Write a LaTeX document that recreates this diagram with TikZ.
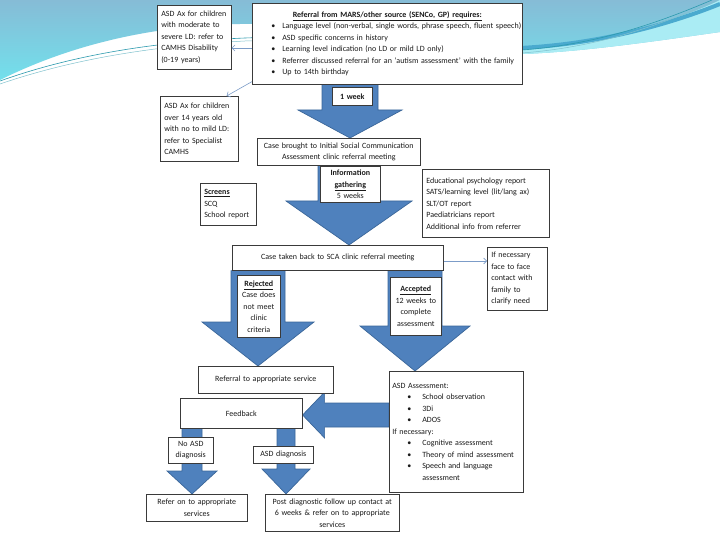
\documentclass[tikz,border=0pt]{standalone}
\usepackage{fontspec}
\setmainfont{Carlito}
\usetikzlibrary{calc,arrows.meta}
\pgfdeclarelayer{back}
\pgfdeclarelayer{mid}
\pgfsetlayers{back,mid,main}
\definecolor{abfill}{HTML}{4F81BD}
\definecolor{abedge}{HTML}{3A6699}
\definecolor{thin}{HTML}{7C9CC8}
\definecolor{bgtop}{HTML}{86BCD6}
\definecolor{bgbot}{HTML}{72E0EC}
\definecolor{band}{HTML}{4AAACF}
\definecolor{tealline}{HTML}{2C9AAE}
\definecolor{txt}{HTML}{1A1A1A}
\definecolor{edge}{HTML}{3A3A3A}
\setlength\parindent{0pt}
\newcommand\bitem[3]{\hspace*{#1}\makebox[#2][l]{\textbullet}#3}
\newcommand\blockdown[5]{%
  \path[blockarrow] let \p1=#1, \p2=#2 in
   (\x1-#3,\y1) -- (\x1+#3,\y1) -- (\x1+#3,\y2+#5) -- (\x1+#4,\y2+#5) -- (\x1,\y2)
   -- (\x1-#4,\y2+#5) -- (\x1-#3,\y2+#5) -- cycle;}
\newcommand\blockleft[5]{%
  \path[blockarrow] let \p1=#1, \p2=#2 in
   (\x1,\y1+#3) -- (\x1,\y1-#3) -- (\x2+#5,\y1-#3) -- (\x2+#5,\y1-#4) -- (\x2,\y1)
   -- (\x2+#5,\y1+#4) -- (\x2+#5,\y1+#3) -- cycle;}
\tikzset{
  box/.style={draw=edge, line width=0.6pt, fill=white, text=txt, anchor=north west,
    inner xsep=4pt, inner ysep=1pt},
  lbl/.style={box, inner xsep=1pt, align=center},
  blockarrow/.style={fill=abfill, draw=abedge, line width=0.7pt, line join=miter},
  thinarrow/.style={draw=thin, line width=0.6pt, -{Straight Barb[length=3pt,width=6pt]}},
}
\begin{document}
\begin{tikzpicture}[x=1pt, y=-1pt, font=\fontsize{8}{11.5}\selectfont]
\useasboundingbox (0,0) rectangle (720,540);
\begin{pgfonlayer}{back}
  \fill[white] (0,0) rectangle (720,540);
  \shade[top color=bgtop, bottom color=bgbot]
    (0,0) -- (720,0) -- (720,32) .. controls (650,42) and (580,52) .. (522,54)
    .. controls (450,56) and (350,22) .. (240,24)
    .. controls (130,26) and (50,55) .. (0,80) -- cycle;
  \fill[white!40!bgbot] (522,54) .. controls (580,52) and (650,42) .. (720,32) -- (720,0)
    .. controls (680,20) and (600,44) .. (522,48) -- cycle;
  \draw[band, line width=4pt] (520,48) .. controls (600,44) and (670,24) .. (720,4);
  \draw[tealline, line width=0.6pt] (0,81) .. controls (70,56) and (150,42) .. (245,38)
    .. controls (350,34) and (450,52) .. (522,50) .. controls (600,44) and (660,22) .. (712,0);
  \draw[tealline!60, line width=0.5pt] (0,84) .. controls (70,60) and (150,46) .. (245,41)
    .. controls (350,37) and (450,55) .. (522,53) .. controls (600,47) and (660,25) .. (718,0);
\end{pgfonlayer}

\coordinate (c1) at (350,0);
\coordinate (c2) at (349,0);
\coordinate (c3) at (258,0);
\coordinate (c4) at (415,0);
\coordinate (c6) at (192,0);
\coordinate (c7) at (286,0);
\coordinate (fy) at (0,415);
\coordinate (ya) at (0,48);
\coordinate (yh) at (0,261);

% main boxes
\node[box, text width=66pt, minimum height=64pt, align=left] (A) at (157,5)
  {ASD Ax for children\\with moderate to\\severe LD: refer to\\CAMHS Disability\\(0-19 years)};
\node[box, inner xsep=3pt, text width=264pt, minimum height=81pt] (B) at (252,3)
  {{\centering\textbf{\underline{Referral from MARS/other source (SENCo, GP) requires:}}\par}\raggedright
   \bitem{16pt}{11pt}{\mbox{Language level (non-verbal, single words, phrase speech, fluent speech)}}\par
   \bitem{16pt}{11pt}{ASD specific concerns in history}\par
   \bitem{16pt}{11pt}{Learning level indication (no LD or mild LD only)}\par
   \bitem{16pt}{11pt}{Referrer discussed referral for an `autism assessment' with the family}\par
   \bitem{16pt}{11pt}{Up to 14th birthday}};
\node[box, text width=70pt, minimum height=65pt, align=left] (C) at (160,96)
  {ASD Ax for children\\over 14 years old\\with no to mild LD:\\refer to Specialist\\CAMHS};
\node[box, text width=155pt, minimum height=27pt, align=center] (D) at (257,138)
  {Case brought to Initial Social Communication\\Assessment clinic referral meeting};
\node[box, text width=48pt, minimum height=42pt, align=left] (E) at (200,183)
  {\textbf{\underline{Screens}}\\SCQ\\School report};
\node[box, text width=119pt, minimum height=68pt, align=left] (F) at (422,169)
  {Educational psychology report\\SATS/learning level (lit/lang ax)\\SLT/OT report\\Paediatricians report\\Additional info from referrer};
\node[box, text width=203pt, minimum height=25pt, align=center] (G) at (232,245)
  {Case taken back to SCA clinic referral meeting};
\node[box, text width=52pt, minimum height=63pt, align=left] (H) at (487,247)
  {If necessary\\face to face\\contact with\\family to\\clarify need};
\node[box, text width=127pt, minimum height=27pt, align=center] (I) at (198,366)
  {Referral to appropriate service};
\node[box, inner xsep=3pt, text width=128pt, minimum height=121pt] (J) at (389,371)
  {\raggedright ASD Assessment:\par
   \bitem{15pt}{15pt}{School observation}\par
   \bitem{15pt}{15pt}{3Di}\par
   \bitem{15pt}{15pt}{ADOS}\par
   If necessary:\par
   \bitem{15pt}{15pt}{Cognitive assessment}\par
   \bitem{15pt}{15pt}{Theory of mind assessment}\par
   \bitem{15pt}{15pt}{Speech and language}\par
   \hspace*{30pt}assessment};
\node[box, text width=114pt, minimum height=30pt, align=center] (K) at (180,398) {Feedback};
\node[box, text width=93pt, minimum height=27pt, align=center] (L) at (146,494)
  {Refer on to appropriate\\services};
\node[box, inner xsep=2pt, text width=130pt, minimum height=37pt, align=center] (M) at (265,494)
  {Post diagnostic follow up contact at\\6 weeks \& refer on to appropriate\\services};

% block arrows
\begin{pgfonlayer}{mid}
  \blockdown{(B.south -| c1)}{(D.north -| c1)}{28pt}{52pt}{28pt}
  \blockdown{(D.south -| c2)}{(G.north -| c2)}{31pt}{63pt}{44pt}
  \blockdown{(G.south -| c3)}{(I.north -| c3)}{27pt}{56pt}{44pt}
  \blockdown{(G.south -| c4)}{(J.north -| c4)}{27pt}{55pt}{45pt}
  \blockleft{(J.west |- fy)}{(K.east |- fy)}{12pt}{23pt}{22pt}
  \blockdown{(K.south -| c6)}{(L.north -| c6)}{10pt}{25pt}{23pt}
  \blockdown{(K.south -| c7)}{(M.north -| c7)}{9pt}{24pt}{25pt}
\end{pgfonlayer}

% labels on arrows
\node[lbl, text width=38pt, minimum height=18pt] (wk) at (332,87) {\textbf{1 week}};
\node[lbl, text width=58pt, minimum height=36pt] (info) at (320,166)
  {\textbf{Information}\\\textbf{\underline{gathering}}\\5 weeks};
\node[lbl, text width=41pt, minimum height=62pt] (rej) at (237,275)
  {\textbf{\underline{Rejected}}\\Case does\\not meet\\clinic\\criteria};
\node[lbl, text width=49pt, minimum height=58pt] (acc) at (390,277)
  {\textbf{\underline{Accepted}}\\12 weeks to\\complete\\assessment};
\node[lbl, text width=43pt, minimum height=26pt] (noasd) at (168,437) {No ASD\\diagnosis};
\node[lbl, text width=58pt, minimum height=17pt] (asdd) at (253,446) {ASD diagnosis};

% thin connectors
\draw[thinarrow] (B.west |- ya) -- (A.east |- ya);
\draw[thinarrow] ($(B.south west)+(0,-3)$) -- ($(C.north east)+(-12,0)$);
\draw[thinarrow] (G.east |- yh) -- (H.west |- yh);
\end{tikzpicture}
\end{document}
